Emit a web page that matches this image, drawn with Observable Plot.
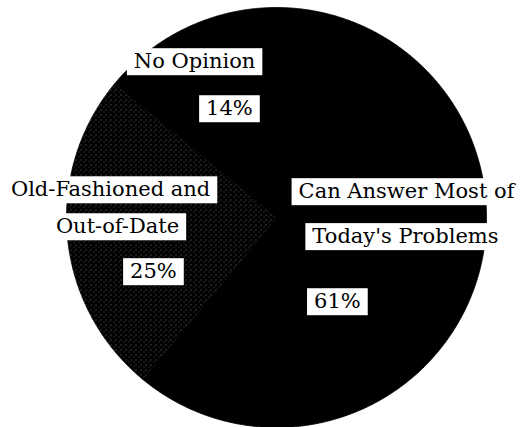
<!DOCTYPE html>
<html>
<head>
<meta charset="utf-8">
<script src="https://cdn.jsdelivr.net/npm/d3@7"></script>
<script src="https://cdn.jsdelivr.net/npm/@observablehq/plot@0.6"></script>
<style>
  html, body { margin: 0; padding: 0; background: #fff; }
  #chart svg { display: block; background: #fff; }
  #chart svg text { font-family: "DejaVu Serif", "Times New Roman", Times, "Liberation Serif", serif !important; }
</style>
</head>
<body>
<div id="chart"></div>
<script>
// ---- data ----
const categories = ["Can Answer Most of Today's Problems", "Old-Fashioned and Out-of-Date", "No Opinion"];
const values = [61, 25, 14];
const labelLines = [["Can Answer Most of", "Today's Problems"], ["Old-Fashioned and", "Out-of-Date"], ["No Opinion"]];

// ---- styles / layout (kept apart from data) ----
const fills = ["#000000", "url(#dots)", "#000000"];
// label line positions, in units of the pie radius (x right, y down)
const linePos = [[[0.619, -0.124], [0.614, 0.090]], [[-0.790, -0.133], [-0.757, 0.043]], [[-0.390, -0.743]]];
const pctPos = [[0.290, 0.400], [-0.586, 0.257], [-0.224, -0.519]];

const cx = 276, cy = 217, r = 210;

const arcs = d3.pie().sort(null).startAngle(0).endAngle(2 * Math.PI)(values);
const poly = [];
arcs.forEach((a, i) => {
  const n = Math.max(2, Math.ceil((a.endAngle - a.startAngle) / (Math.PI / 360)));
  poly.push({cat: categories[i], x: 0, y: 0});
  for (let k = 0; k <= n; k++) {
    const t = a.startAngle + (a.endAngle - a.startAngle) * k / n;
    poly.push({cat: categories[i], x: Math.sin(t), y: -Math.cos(t)});
  }
  poly.push({cat: categories[i], x: 0, y: 0});
});

const labels = [];
categories.forEach((c, i) => {
  labelLines[i].forEach((s, j) => labels.push({text: s, x: linePos[i][j][0], y: linePos[i][j][1]}));
  labels.push({text: `${values[i]}%`, x: pctPos[i][0], y: pctPos[i][1]});
});

const svg = Plot.plot({
  width: 526,
  height: 427,
  margin: 0,
  style: {background: "#fff"},
  x: {domain: [-1, 1], range: [cx - r, cx + r], axis: null},
  y: {domain: [-1, 1], range: [cy - r, cy + r], axis: null},
  color: {domain: categories, range: fills},
  marks: [
    Plot.line(poly, {x: "x", y: "y", z: "cat", fill: "cat", stroke: "cat", strokeWidth: 0.8, curve: "linear"}),
    Plot.text(labels, {x: "x", y: "y", text: "text", fill: "#000",
      fontFamily: "DejaVu Serif", fontSize: 21})
  ]
});
document.getElementById("chart").append(svg);

// dotted texture for the middle slice
const ns = "http://www.w3.org/2000/svg";
const defs = document.createElementNS(ns, "defs");
const pat = document.createElementNS(ns, "pattern");
pat.setAttribute("id", "dots");
pat.setAttribute("patternUnits", "userSpaceOnUse");
pat.setAttribute("width", 5);
pat.setAttribute("height", 5);
const bg = document.createElementNS(ns, "rect");
bg.setAttribute("width", 5); bg.setAttribute("height", 5); bg.setAttribute("fill", "#000");
pat.append(bg);
[[0, 4], [3, 1]].forEach(([px, py], k) => {
  const d = document.createElementNS(ns, "rect");
  d.setAttribute("x", px); d.setAttribute("y", py);
  d.setAttribute("width", 1); d.setAttribute("height", 1);
  d.setAttribute("fill", k % 2 ? "#505050" : "#777777");
  pat.append(d);
});
defs.append(pat);
svg.insertBefore(defs, svg.firstChild);

// white boxes behind the labels (same transform as each text)
Array.from(svg.querySelectorAll("text")).forEach(t => {
  const bb = t.getBBox();
  const rc = document.createElementNS(ns, "rect");
  rc.setAttribute("x", bb.x - 7);
  rc.setAttribute("y", bb.y - 1);
  rc.setAttribute("width", bb.width + 14);
  rc.setAttribute("height", bb.height + 3);
  rc.setAttribute("fill", "#fff");
  rc.setAttribute("stroke", "none");
  const tr = t.getAttribute("transform");
  if (tr) rc.setAttribute("transform", tr);
  t.parentNode.insertBefore(rc, t);
});
</script>
</body>
</html>
